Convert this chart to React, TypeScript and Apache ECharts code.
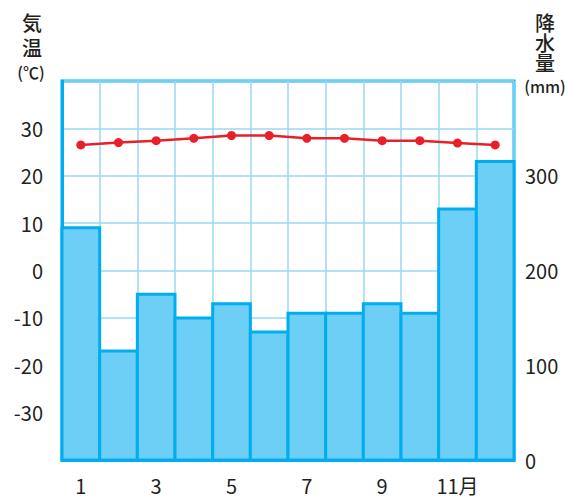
import React, { useEffect, useRef } from "react";
import * as echarts from "echarts";

const months = ["1", "2", "3", "4", "5", "6", "7", "8", "9", "10", "11", "12"];
const precipitation = [245, 115, 175, 150, 165, 135, 155, 155, 165, 155, 265, 315];
const temperature = [26.5, 27.0, 27.4, 27.9, 28.5, 28.5, 27.9, 27.9, 27.4, 27.4, 26.9, 26.5];
const tempTicks = [-30, -20, -10, 0, 10, 20, 30];
const precipTicks = [0, 100, 200, 300];

const FONT = "'Noto Sans CJK JP', 'Noto Sans', sans-serif";
const TEXT = "#231f20";
const AXIS = "#00aeef";

export default function App() {
  const ref = useRef<HTMLDivElement>(null);
  useEffect(() => {
    if (!ref.current) return;
    document.body.style.margin = "0";
    const chart = echarts.init(ref.current, undefined, { renderer: "svg" });
    const t = (x: number, y: number, s: string, size: number, lh?: number) => ({
      type: "text",
      x,
      y,
      style: {
        text: s,
        fontSize: size,
        lineHeight: lh ?? size,
        fontFamily: FONT,
        fill: TEXT,
        align: "center",
        verticalAlign: "middle",
        fontWeight: 500,
      },
    });
    chart.setOption({
      animation: false,
      grid: {
        left: 62,
        right: 51,
        top: 81,
        bottom: 39,
        show: true,
        borderColor: AXIS,
        borderWidth: 3,
        backgroundColor: "transparent",
      },
      xAxis: {
        type: "category",
        data: months,
        boundaryGap: true,
        axisLine: { show: true, onZero: false, lineStyle: { color: AXIS, width: 3 } },
        axisTick: { show: false },
        splitLine: { show: true, interval: 0, lineStyle: { color: "#9ad8f4", width: 1.5 } },
        axisLabel: {
          interval: 0,
          margin: 15,
          fontSize: 20,
          fontFamily: FONT,
          color: TEXT,
          formatter: (v: string, i: number) => (i % 2 === 0 ? (i === 10 ? v + "月" : v) : ""),
        },
      },
      yAxis: [
        {
          type: "value",
          min: -40,
          max: 40,
          interval: 10,
          axisLine: { show: true, lineStyle: { color: AXIS, width: 3 } },
          axisTick: { show: false },
          splitLine: { show: true, lineStyle: { color: "#9ad8f4", width: 1.5 } },
          axisLabel: {
            margin: 19,
            fontSize: 20,
            fontFamily: FONT,
            color: TEXT,
            formatter: (v: number) => (tempTicks.includes(v) ? String(v) : ""),
          },
        },
        {
          type: "value",
          min: 0,
          max: 400,
          interval: 50,
          position: "right",
          axisLine: { show: false },
          axisTick: { show: false },
          splitLine: { show: false },
          axisLabel: {
            margin: 11,
            fontSize: 20,
            fontFamily: FONT,
            color: TEXT,
            formatter: (v: number) => (precipTicks.includes(v) ? String(v) : ""),
          },
        },
      ],
      series: [
        {
          type: "custom",
          yAxisIndex: 1,
          data: precipitation.map((v, i) => [i, v]),
          encode: { x: 0, y: 1 },
          z: 2,
          renderItem: (params: any, api: any) => {
            const i = api.value(0);
            const v = api.value(1);
            const top = api.coord([i, v]);
            const bottom = api.coord([i, 0]);
            const w = api.size([1, 0])[0];
            return {
              type: "rect",
              shape: { x: top[0] - w / 2, y: top[1], width: w, height: bottom[1] - top[1] },
              style: { fill: "#6dcff6", stroke: AXIS, lineWidth: 3 },
            };
          },
        },
        {
          type: "line",
          yAxisIndex: 0,
          data: temperature,
          symbol: "circle",
          symbolSize: 9,
          lineStyle: { color: "#e8202a", width: 2.5 },
          itemStyle: { color: "#e8202a" },
          z: 5,
        },
      ],
      graphic: [
        t(32, 35, "気\n温", 20, 24.5),
        t(31, 72, "(℃)", 16),
        t(545, 42, "降\n水\n量", 20, 20),
        t(545, 86, "(mm)", 16),
      ],
    });
    return () => chart.dispose();
  }, []);
  return <div ref={ref} style={{ width: 565, height: 499 }} />;
}
